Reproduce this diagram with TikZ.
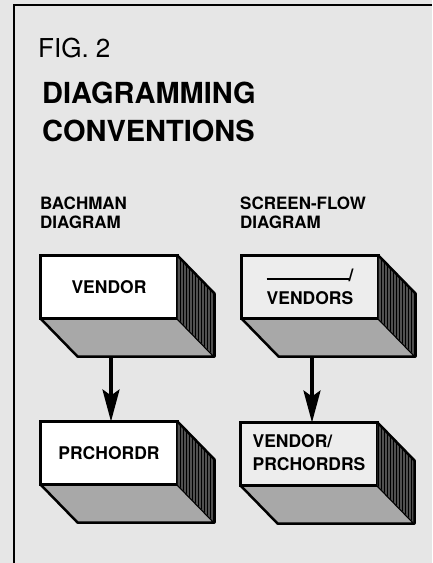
\documentclass[tikz,border=0pt]{standalone}
\usepackage{fontspec}
\setmainfont{TeX Gyre Heros}
\usetikzlibrary{positioning}
\usetikzlibrary{calc,arrows.meta}
\usetikzlibrary{patterns}
\definecolor{bm-paper}{HTML}{E6E6E6}
\definecolor{bm-screen}{HTML}{EDEDED}
\definecolor{bm-floor}{HTML}{A8A8A8}
\definecolor{bm-side}{HTML}{505050}

\begin{document}
\begin{tikzpicture}[
    x=1pt, y=-1pt, % pixel grid of the page
    >=latex
  ]

  % Styles for the slabs and captions
  \tikzset{
    slab/.style={draw, line width=2.5pt, fill=white, minimum width=137pt, minimum height=63pt, inner sep=0pt, outer sep=0pt, font=\fontsize{17.5}{23}\selectfont\bfseries, align=center},
    screen/.style={slab, fill=bm-screen},
    caption/.style={anchor=north west, inner sep=0pt, align=left, font=\fontsize{17}{18.5}\selectfont\bfseries},
    link/.style={-{Stealth[length=32pt, width=17pt, inset=6pt]}, line width=3.5pt}
  }

  % Paper and frame
  \fill[bm-paper] (0,0) rectangle (432,563);
  \useasboundingbox (0,0) rectangle (432,563);
  \draw[line width=2pt] (14,563) -- (14,5) -- (432,5);

  % Headings
  \node (fig) [anchor=north west, inner sep=0pt, font=\fontsize{26}{32}\selectfont] at (38,38) {FIG. 2};
  \node (title) [anchor=north west, inner sep=0pt, align=left, font=\fontsize{29}{38}\selectfont\bfseries] at (42,82) {DIAGRAMMING\\CONVENTIONS};
  \node (bachman) [caption] at (40,197) {BACHMAN\\DIAGRAM};
  \node (screenflow) [caption] at (240,197) {SCREEN-FLOW\\DIAGRAM};

  % Front faces
  \node (vendor)     [slab]   at (109,287) {VENDOR};
  \node (prchordr)   [slab]   at (109,453) {PRCHORDR};
  \node (vendors)    [screen] at (310,287) {\rule[2pt]{82pt}{1.3pt}/\\VENDORS};
  \node (vendorprch) [screen, align=left, text depth=2pt] at (309,454) {VENDOR/\\PRCHORDRS};

  % Floor and side of each slab
  \foreach \n in {vendor, prchordr, vendors, vendorprch} {
    \filldraw[fill=bm-floor, line width=2.5pt, line join=round] (\n.south west) -- ++(37,38) -- ($(\n.south east)+(37,38)$) -- (\n.south east) -- cycle;
    \fill[bm-side] (\n.north east) -- ++(37,38) -- ($(\n.south east)+(37,38)$) -- (\n.south east) -- cycle;
    \fill[pattern=vertical lines] (\n.north east) -- ++(37,38) -- ($(\n.south east)+(37,38)$) -- (\n.south east) -- cycle;
    \draw[line width=2.5pt, line join=round] (\n.north east) -- ++(37,38) -- ($(\n.south east)+(37,38)$);
    \coordinate (\n-back) at ($(\n.south)+(2,38)$);
  }

  % Links between the slabs
  \draw[link] (vendor-back) -- (vendor-back |- prchordr.north);
  \draw[link] (vendors-back) -- (vendors-back |- vendorprch.north);

\end{tikzpicture}
\end{document}
